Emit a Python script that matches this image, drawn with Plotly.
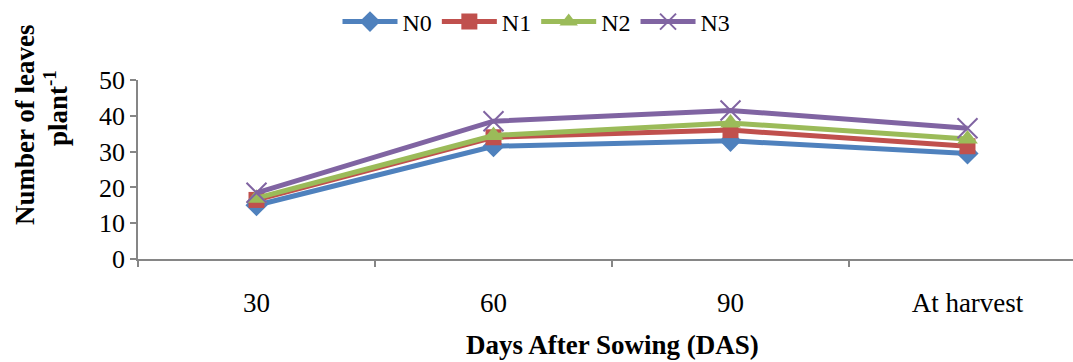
import plotly.graph_objects as go

categories = ["30", "60", "90", "At harvest"]
series_names = ["N0", "N1", "N2", "N3"]
n0 = [15, 31.5, 33, 29.5]
n1 = [16.5, 34, 36, 31.5]
n2 = [17, 34.5, 38, 33.5]
n3 = [18.5, 38.5, 41.5, 36.5]
values = [n0, n1, n2, n3]

colors = ["#4F81BD", "#C0504D", "#9BBB59", "#8064A2"]
symbols = ["diamond", "square", "triangle-up", "x-thin"]
sizes = [17, 16, 18, 20]

fig = go.Figure()
for name, vals, c, s, sz in zip(series_names, values, colors, symbols, sizes):
    marker = dict(symbol=s, size=sz, color=c)
    if s == "x-thin":
        marker["line"] = dict(color=c, width=2)
    fig.add_trace(go.Scatter(
        x=categories, y=vals, name=name, mode="lines+markers",
        line=dict(color=c, width=5), marker=marker,
    ))

axis_col = "#868686"
serif = "Liberation Serif"
L, T, B, W, H = 138, 80, 103, 1073, 362
PW, PH = W - L, H - T - B


def px(x):
    return (x - L) / PW


def py(y):
    return (H - B - y) / PH


fig.update_layout(
    width=W, height=H,
    margin=dict(l=L, r=0, t=T, b=B),
    paper_bgcolor="white", plot_bgcolor="white",
    font=dict(family=serif, size=24, color="black"),
    showlegend=True,
    legend=dict(orientation="h", xref="container", yref="container",
                x=0.5, xanchor="center", y=1 - 22 / 362, yanchor="middle",
                font=dict(family=serif, size=24), itemwidth=55,
                traceorder="normal"),
    xaxis=dict(
        type="category", range=[-0.5, -0.5 + PW / 237],
        showline=True, linecolor=axis_col, linewidth=1.5,
        ticks="outside", tickson="boundaries", ticklen=6, tickcolor=axis_col,
        tickwidth=1.5, showgrid=False, zeroline=False,
        ticklabelstandoff=19,
        tickfont=dict(family=serif, size=27),
    ),
    yaxis=dict(
        range=[0, 50], dtick=10, showline=True, linecolor=axis_col,
        linewidth=1.5, ticks="outside", ticklen=6, tickcolor=axis_col,
        tickwidth=1.5, showgrid=False, zeroline=False,
        tickfont=dict(family=serif, size=26),
    ),
    annotations=[
        dict(text="<b>Days After Sowing (DAS)</b>", xref="paper", yref="paper",
             x=px(612), y=py(345), xanchor="center", yanchor="middle",
             showarrow=False, font=dict(family=serif, size=27)),
        dict(text="<b>Number of leaves</b>", xref="paper", yref="paper",
             x=px(25), y=py(125), xanchor="center", yanchor="middle",
             textangle=-90, showarrow=False, font=dict(family=serif, size=27)),
        dict(text="<b>plant<sup>-1</sup></b>", xref="paper", yref="paper",
             x=px(56), y=py(108), xanchor="center", yanchor="middle",
             textangle=-90, showarrow=False, font=dict(family=serif, size=27)),
    ],
)

fig.write_html("out.html")
